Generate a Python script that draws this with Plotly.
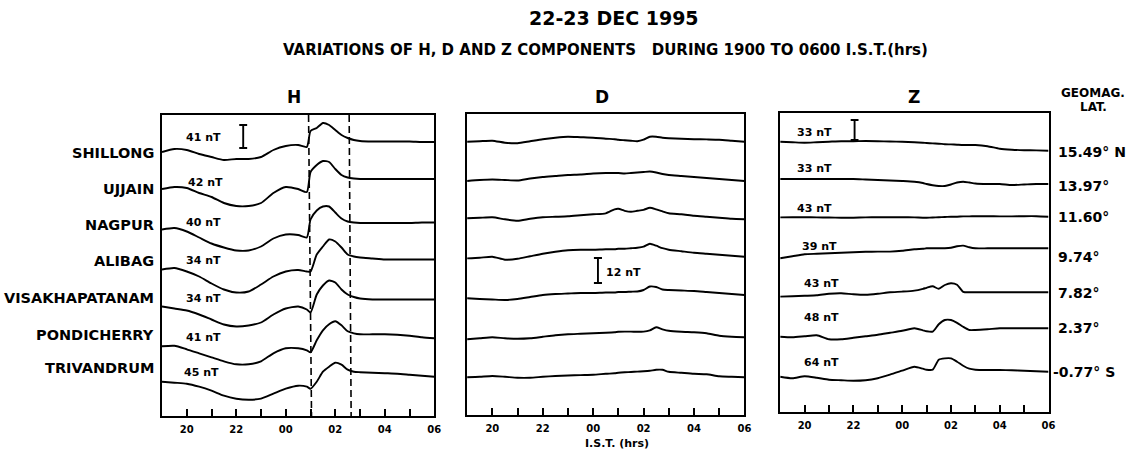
import plotly.graph_objects as go

# ---------------- data ----------------
# time axis in hours (19 = 1900 IST, 24 = 0000, 30 = 0600 next day)
T = [19.0, 19.5, 20.0, 20.5, 21.0, 21.5, 22.0, 22.5, 23.0, 23.5, 24.0, 24.5, 24.85, 25.0,
     25.25, 25.5, 25.75, 26.0, 26.25, 26.5, 26.75, 27.0, 27.5, 28.0, 28.5, 29.0, 29.5, 30.0]

STATIONS = ["SHILLONG", "UJJAIN", "NAGPUR", "ALIBAG", "VISAKHAPATANAM", "PONDICHERRY", "TRIVANDRUM"]
H_SCALE_NT = [41, 42, 40, 34, 34, 41, 45]
Z_SCALE_NT = [33, 33, 43, 39, 43, 48, 64]
D_SCALE_NT = 12
GEOMAG_LAT = ["15.49° N", "13.97°", "11.60°", "9.74°", "7.82°", "2.37°", "-0.77° S"]

TICK_VALS = [20, 21, 22, 23, 24, 25, 26, 27, 28, 29, 30]
TICK_TEXT = ["20", "", "22", "", "00", "", "02", "", "04", "", "06"]

# deflections (in scale-bar display units, positive = upward)
H_SHILLONG = [-10, -7, -8, -12, -15, -18, -17, -17, -15, -8, -4, -3, -5, 11, 14, 19, 17, 12, 7, 4, 2, 1, 0.5, 0.5, 0.5, 0.5, 0, 0]
H_UJJAIN = [-10, -8, -9, -14, -18, -24, -27, -27, -24, -14, -8, -10, -13, 7, 14, 18, 17, 10, 4, 1.5, 0.5, 0, 0, 0, 0, 0, 0, 0]
H_NAGPUR = [-7, -5.5, -9, -15, -21, -25, -28, -28, -24, -16, -12, -12.5, -15, 3, 12, 16, 16, 10, 4, 1, 0, -0.5, -0.5, -0.5, -0.5, -0.5, 0, 0]
H_ALIBAG = [-10, -8.5, -12, -17, -24, -30, -33, -32, -25, -17, -12, -10.5, -12, -12, 5, 13, 20, 18, 12, 5, 3, 2, 1, 0, 0, 0, 0, 0]
H_VISAKHAPATANAM = [-7, -9, -11, -15, -20, -25, -27, -26, -23, -15, -9, -7, -10, -13, 5, 14, 19, 17, 10, 5, 2.5, 1, 0, 0, 0, 0, 0, 0]
H_PONDICHERRY = [-8, -7.5, -11, -15, -19, -23, -26, -26, -23, -15, -10, -10, -12, -14, -2, 8, 14, 17, 13, 7, 5, 4, 4, 4, 3.5, 2.5, 1, 0]
H_TRIVANDRUM = [-5, -6, -7, -10, -14, -19, -22, -23, -22, -17, -12, -9, -10, -12, -5, 5, 10, 14, 12, 7, 5, 4.5, 4, 3.5, 3, 2, 1, 0]

D_SHILLONG = [0, 0.5, 1, -1, -1.5, 0.5, 2.5, 4, 5, 4.5, 4, 3, 2.5, 2, 1.5, 1, 0.5, 2, 5, 5, 4, 3.5, 3, 2.5, 2.3, 2, 1, 0]
D_UJJAIN = [0, 1, 1.5, 1, 0.5, 2.5, 4, 5, 6, 6.5, 7.5, 8, 8, 8, 7.5, 8, 8.5, 9, 9.5, 8.5, 7, 6, 5, 4, 3, 2, 1, 0]
D_NAGPUR = [1, 1.5, 2, 0, -1.5, 0.5, 2, 2.5, 3, 4, 5, 6, 10, 10.5, 8.5, 7.5, 8.5, 9.5, 11.5, 10, 8, 6, 5, 3.5, 2.5, 1.5, 0.5, 0]
D_ALIBAG = [-1.7, -1, 0, -3, -2, 0.5, 3, 5, 6.5, 7, 7, 7.5, 7.5, 8, 8, 8.5, 9, 10, 13, 11, 8.5, 7, 5.5, 4, 3, 2, 1, 0]
D_VISAKHAPATANAM = [-3.3, -4, -4.5, -5, -4, -2, 0, 1, 1.5, 2, 2, 2.5, 2.5, 3, 3, 3.3, 3.5, 5, 8.5, 8, 5.5, 5, 4.5, 4, 3, 2, 1, 0]
D_PONDICHERRY = [-2, -1, 0, -1, -1.5, -1, 0.5, 2, 3, 3.5, 4, 4.5, 5, 5.5, 5.7, 5.7, 5.5, 5.7, 7, 10, 8, 6.5, 5.5, 5, 4, 1.5, 0.5, 0]
D_TRIVANDRUM = [0, 0.5, 1.3, 0.5, -0.5, -0.5, 0.5, 1.3, 1.8, 2.2, 2.5, 3.5, 4, 4.5, 5, 5.3, 5.7, 6, 6.5, 7.5, 7.5, 5.5, 4.5, 3.5, 3, 1, 0.5, 0]

Z_SHILLONG = [9, 8.5, 8, 8.5, 9, 9.5, 9.5, 9.7, 9.5, 9.2, 9, 8.5, 8, 7.7, 7.3, 7, 6.5, 6.3, 6, 5.7, 5.7, 5.7, 4.5, 2, 1, 0.5, 0.3, 0]
Z_UJJAIN = [5, 5, 5, 5, 5, 5, 5, 4.5, 4, 3.5, 3, 2.3, 1, 0, -1.2, -2, -2, -0.5, 1.5, 2.3, 1.5, 0.5, 0, 0, -1, -0.5, 0, 0]
Z_NAGPUR = [-0.7, -0.5, -0.5, -0.7, -0.8, -1, -1, -0.7, -0.5, -0.5, -0.5, -0.7, -1, -1, -0.8, -0.5, -0.3, 0, 0, 0.3, 0.3, 0.5, 0.5, 0.3, 0.3, 0.5, 0.5, 0]
Z_ALIBAG = [-10, -8, -6, -5.5, -5, -4.5, -4, -3.5, -3.3, -3.3, -2.5, -1, -0.5, 0, 0, 0, 0, 0.5, 2, 2.7, 1, 0, 0, 0, 0, 0, 0, 0]
Z_VISAKHAPATANAM = [-4.3, -4, -3.5, -3, -1.5, -1, -2, -2.5, -1.5, 0, 0.7, 1.7, 3.5, 4.5, 6, 3.5, 7.3, 9, 7.5, 0.5, 0, 0, 0, 0, 0, 0, 0, 0]
Z_PONDICHERRY = [-8.5, -9, -8, -7, -11, -11, -9.5, -8, -6.5, -4.5, -2.5, 0, -2, -3, -3.3, 4, 8.3, 8.3, 5.5, 1.5, -1.7, -1.7, -1, 0, 0, 0, 0, 0]
Z_TRIVANDRUM = [-5, -6.5, -4.5, -6, -8, -8.5, -9, -8.5, -6.5, -3, 1, 5, 3, 2, 2, 12, 13.3, 13.3, 10, 6, 3, 2, 1.7, 1.7, 1.5, 1, 0.5, 0]

H_SERIES = [H_SHILLONG, H_UJJAIN, H_NAGPUR, H_ALIBAG, H_VISAKHAPATANAM, H_PONDICHERRY, H_TRIVANDRUM]
D_SERIES = [D_SHILLONG, D_UJJAIN, D_NAGPUR, D_ALIBAG, D_VISAKHAPATANAM, D_PONDICHERRY, D_TRIVANDRUM]
Z_SERIES = [Z_SHILLONG, Z_UJJAIN, Z_NAGPUR, Z_ALIBAG, Z_VISAKHAPATANAM, Z_PONDICHERRY, Z_TRIVANDRUM]

# ---------------- layout (pixel geometry) ----------------
W, HGT = 1142, 456
H_BASE = [142, 179, 222.5, 259.5, 299.5, 338.3, 376.7]
D_BASE = [141.7, 181, 219.3, 256.7, 295, 337.3, 377.3]
Z_BASE = [150.7, 184, 216.7, 248.3, 292.3, 328.3, 371.7]

PANELS = {  # left, right, top, bottom in px
    "H": (163, 437, 115, 416),
    "D": (470, 749, 114, 415),
    "Z": (785, 1055, 113, 412),
}


def px(x):
    return x / W


def py(y):
    return 1 - y / HGT


fig = go.Figure()
axis_ids = {"H": ("x", "y"), "D": ("x2", "y2"), "Z": ("x3", "y3")}
series = {"H": (H_SERIES, H_BASE), "D": (D_SERIES, D_BASE), "Z": (Z_SERIES, Z_BASE)}

for comp, (xa, ya) in axis_ids.items():
    data, bases = series[comp]
    for vals, base in zip(data, bases):
        fig.add_trace(go.Scatter(
            x=T, y=[base - v for v in vals], xaxis=xa, yaxis=ya, mode="lines",
            line=dict(color="black", width=1.9, shape="spline", smoothing=0.6),
            hoverinfo="skip", showlegend=False))

FONT = "DejaVu Sans, Liberation Sans, Arial, sans-serif"
layout = dict(width=W, height=HGT, margin=dict(l=0, r=0, t=0, b=0),
              paper_bgcolor="white", plot_bgcolor="white", showlegend=False,
              font=dict(family=FONT, color="black"))

for i, comp in enumerate(["H", "D", "Z"]):
    l, r, t, b = PANELS[comp]
    sfx = "" if i == 0 else str(i + 1)
    layout["xaxis" + sfx] = dict(
        domain=[px(l), px(r)], range=[19, 30], anchor="y" + sfx,
        showline=True, linecolor="black", linewidth=1.7, mirror=True,
        ticks="inside", ticklen=7, tickwidth=1.5, tickcolor="black",
        tickvals=TICK_VALS, ticktext=TICK_TEXT, showgrid=False, zeroline=False,
        tickfont=dict(size=10, family=FONT, weight="bold", color="black"),
        ticklabelstandoff=3)
    layout["yaxis" + sfx] = dict(
        domain=[py(b), py(t)], range=[b, t], anchor="x" + sfx,
        showline=True, linecolor="black", linewidth=1.7, mirror=True,
        showticklabels=False, ticks="", showgrid=False, zeroline=False)

fig.update_layout(**layout)

ann = []


def text(x, y, s, size, anchor="center", bold=True):
    ann.append(dict(x=px(x), y=py(y), xref="paper", yref="paper", text=s, showarrow=False,
                    xanchor=anchor, yanchor="middle",
                    font=dict(size=size, family=FONT, weight="bold" if bold else "normal", color="black")))


text(618, 18, "22-23 DEC 1995", 19)
text(609, 50, "VARIATIONS OF H, D AND Z COMPONENTS &nbsp; DURING 1900 TO 0600 I.S.T.(hrs)", 15)
text(296, 97, "H", 17)
text(606, 97, "D", 17)
text(920, 97, "Z", 17)
text(1100, 92.5, "GEOMAG.", 12)
text(1100, 107, "LAT.", 12)
text(621, 443, "I.S.T. (hrs)", 11)

STATION_Y = [153, 189, 225, 261, 298, 335, 368]
for name, y in zip(STATIONS, STATION_Y):
    text(157, y, name, 14.5, anchor="right")

H_LABEL_Y = [138, 182, 222, 260, 298, 337, 372]
H_LABEL_X = [185, 187, 185, 185, 185, 185, 183]
for s, x, y in zip(H_SCALE_NT, H_LABEL_X, H_LABEL_Y):
    text(x, y, f"{s} nT", 11, anchor="left")

Z_LABEL_Y = [132, 168, 208, 247, 283, 317, 362]
Z_LABEL_X = [800, 800, 800, 805, 807, 807, 807]
for s, x, y in zip(Z_SCALE_NT, Z_LABEL_X, Z_LABEL_Y):
    text(x, y, f"{s} nT", 11, anchor="left")

LAT_Y = [152, 186, 217, 257, 293, 328, 372]
for s, y in zip(GEOMAG_LAT, LAT_Y):
    text(1063 if not s.startswith("-") else 1057, y, s, 14, anchor="left")

text(608, 272, f"{D_SCALE_NT} nT", 11, anchor="left")
fig.update_layout(annotations=ann)

shapes = []
# dashed event lines in H panel
for x_top, x_bot in [(24.92, 25.04), (26.56, 26.64)]:
    shapes.append(dict(type="line", xref="x", yref="y", x0=x_top, x1=x_bot, y0=115, y1=416,
                       line=dict(color="black", width=1.6, dash="7px,4px")))


def bar(xref, yref, xc, y0, y1, cap):
    shapes.append(dict(type="line", xref=xref, yref=yref, x0=xc, x1=xc, y0=y0, y1=y1,
                       line=dict(color="black", width=1.9)))
    for yy in (y0, y1):
        shapes.append(dict(type="line", xref=xref, yref=yref, x0=xc - cap, x1=xc + cap, y0=yy, y1=yy,
                           line=dict(color="black", width=1.9)))


bar("x", "y", 22.28, 125, 148, 0.16)
bar("x2", "y2", 24.19, 258, 283, 0.16)
bar("x3", "y3", 22.05, 120, 140, 0.16)
fig.update_layout(shapes=shapes)

fig.write_html("out.html", config={"displayModeBar": False},
               post_script="document.body.style.margin='0';document.body.style.overflow='hidden';")
